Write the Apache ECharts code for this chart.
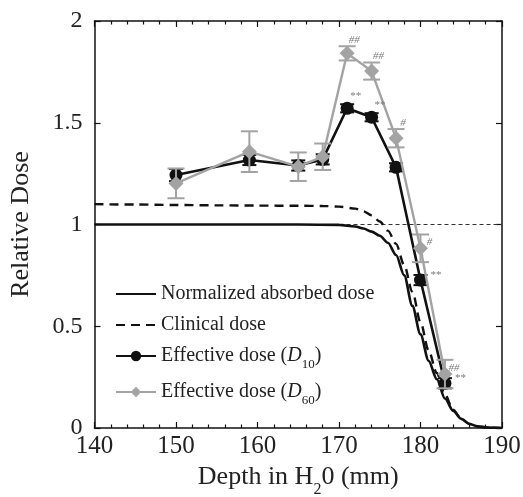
<!DOCTYPE html>
<html>
<head>
<meta charset="utf-8">
<script src="https://cdn.jsdelivr.net/npm/echarts@6/dist/echarts.min.js"></script>
<style>
html,body{margin:0;padding:0;background:#fff;}
#c{width:523px;height:497px;}
</style>
</head>
<body>
<div id="c"></div>
<script>
// ---- data ----
const xTicks = [140, 150, 160, 170, 180, 190];
const yTicks = [0, 0.5, 1, 1.5, 2];
const absorbedDepth = [140,145,150,155,160,165,170,172,173,174,175,176,177,178,179,180,181,182,183,184,185,186,187,188,189,190];
const absorbedDose  = [1.0,1.0,1.0,1.0,1.0,1.0,0.998,0.99,0.98,0.965,0.945,0.91,0.85,0.75,0.6,0.46,0.33,0.24,0.145,0.085,0.045,0.02,0.008,0.003,0.001,0];
const clinicalDepth = [140,145,150,155,160,165,168,170,172,173,174,175,176,177,178,179,180,181,182,183,184,185,186,187,188,189,190];
const clinicalDose  = [1.10,1.098,1.096,1.094,1.093,1.092,1.091,1.088,1.078,1.065,1.045,1.015,0.97,0.905,0.80,0.67,0.52,0.38,0.27,0.165,0.09,0.045,0.02,0.008,0.003,0.001,0];
const refLine = [[140, 1], [190, 1]];
const depths = [150, 159, 165, 168, 171, 174, 177, 180, 183];
const d10    = [1.243, 1.317, 1.29, 1.32, 1.571, 1.527, 1.281, 0.727, 0.22];
const d10Err = [0.03, 0.025, 0.025, 0.025, 0.02, 0.02, 0.02, 0.025, 0.025];
const d60    = [1.202, 1.358, 1.284, 1.333, 1.841, 1.754, 1.424, 0.883, 0.265];
const d60Err = [0.073, 0.10, 0.07, 0.065, 0.035, 0.042, 0.045, 0.068, 0.07];
const d10Sig = ['', '', '', '', '**', '**', '', '**', '**'];
const d60Sig = ['', '', '', '', '##', '##', '#', '#', '##'];
const legendNames = ['Normalized absorbed dose', 'Clinical dose', 'Effective dose (D10)', 'Effective dose (D60)'];

// ---- chart ----
const FONT = 'Liberation Serif';
const BLACK = '#111';
const GRAY = '#a3a3a3';
const TXT = '#222';
const chart = echarts.init(document.getElementById('c'), null, {renderer: 'canvas'});

function zip(xs, ys) { return xs.map((x, i) => [x, ys[i]]); }

function errorSeries(vals, errs, color, capHalf, width, z) {
  return {
    type: 'custom',
    silent: true,
    z: z,
    data: depths.map((x, i) => [x, vals[i] - errs[i], vals[i] + errs[i]]),
    renderItem: function (params, api) {
      const lo = api.coord([api.value(0), api.value(1)]);
      const hi = api.coord([api.value(0), api.value(2)]);
      const st = {stroke: color, lineWidth: width};
      return {
        type: 'group',
        children: [
          {type: 'line', shape: {x1: lo[0], y1: lo[1], x2: hi[0], y2: hi[1]}, style: st},
          {type: 'line', shape: {x1: lo[0] - capHalf, y1: lo[1], x2: lo[0] + capHalf, y2: lo[1]}, style: st},
          {type: 'line', shape: {x1: hi[0] - capHalf, y1: hi[1], x2: hi[0] + capHalf, y2: hi[1]}, style: st}
        ]
      };
    }
  };
}

function sigSeries(vals, errs, sig, isD60) {
  return {
    type: 'custom',
    silent: true,
    z: 20,
    data: depths.map((x, i) => [x, vals[i], errs[i], i]),
    renderItem: function (params, api) {
      const i = api.value(3);
      const txt = sig[i];
      if (!txt) return null;
      let p;
      if (isD60) {
        const cap = api.coord([api.value(0), api.value(1) + api.value(2)]);
        p = i < 7 ? [cap[0] + 7, cap[1] - 6] : [cap[0] + 9, cap[1] + 8];
      } else {
        const pt = api.coord([api.value(0), api.value(1)]);
        p = i < 7 ? [pt[0] + 8, pt[1] - 12] : [pt[0] + 15, pt[1] - 5];
      }
      return {
        type: 'text',
        x: p[0], y: p[1],
        style: {text: txt, fill: '#7a7a7a', font: 'italic 11px "' + FONT + '"', align: 'center', verticalAlign: 'middle'}
      };
    }
  };
}

const richLegend = {
  n: {fontFamily: FONT, fontSize: 20, color: TXT, lineHeight: 24},
  i: {fontFamily: FONT, fontSize: 20, color: TXT, fontStyle: 'italic', lineHeight: 24},
  s: {fontFamily: FONT, fontSize: 13, color: TXT, lineHeight: 13, verticalAlign: 'bottom', padding: [0, 0, -3, 0]}
};

const hideSym = {opacity: 0};

const option = {
  backgroundColor: '#fff',
  animation: false,
  grid: {left: 94.5, right: 21, top: 21, bottom: 69, outerBoundsMode: 'none', containLabel: false},
  legend: {
    data: [
      {name: legendNames[0], itemStyle: hideSym},
      {name: legendNames[1], itemStyle: hideSym},
      {name: legendNames[2]},
      {name: legendNames[3]}
    ],
    orient: 'vertical',
    left: 110,
    top: 279,
    itemWidth: 40,
    itemHeight: 13,
    itemGap: 11,
    textStyle: {fontFamily: FONT, fontSize: 20, color: TXT, rich: richLegend},
    formatter: function (name) {
      const m = name.match(/^(.*)\(D(\d+)\)$/);
      if (m) return '{n|' + m[1] + '(}{i|D}{s|' + m[2] + '}{n|)}';
      return '{n|' + name + '}';
    }
  },
  xAxis: [{
    type: 'value', min: 140, max: 190, interval: 10, position: 'bottom',
    name: 'Depth in H{s|2}0 (mm)', nameLocation: 'middle', nameGap: 30,
    nameTextStyle: {fontFamily: FONT, fontSize: 26, color: TXT,
      rich: {s: {fontFamily: FONT, fontSize: 16, color: TXT, verticalAlign: 'bottom', padding: [0, 0, -8, 0]}}},
    axisLine: {onZero: false, lineStyle: {color: BLACK, width: 1.5}},
    axisTick: {inside: true, length: 6, lineStyle: {color: BLACK, width: 1.2}},
    minorTick: {show: true, splitNumber: 5, length: 3.5, lineStyle: {color: BLACK, width: 1.2}},
    axisLabel: {fontFamily: FONT, fontSize: 25, color: TXT, margin: 6},
    splitLine: {show: false}
  }, {
    type: 'value', min: 140, max: 190, interval: 10, position: 'top',
    axisLine: {onZero: false, lineStyle: {color: BLACK, width: 1.5}},
    axisTick: {inside: true, length: 6, lineStyle: {color: BLACK, width: 1.2}},
    minorTick: {show: true, splitNumber: 5, length: 3.5, lineStyle: {color: BLACK, width: 1.2}},
    axisLabel: {show: false},
    splitLine: {show: false}
  }],
  yAxis: [{
    type: 'value', min: 0, max: 2, interval: 0.5, position: 'left',
    name: 'Relative Dose', nameLocation: 'middle', nameGap: 60,
    nameTextStyle: {fontFamily: FONT, fontSize: 26, color: TXT},
    axisLine: {onZero: false, lineStyle: {color: BLACK, width: 1.5}},
    axisTick: {inside: true, length: 6, lineStyle: {color: BLACK, width: 1.2}},
    axisLabel: {fontFamily: FONT, fontSize: 24, color: TXT, margin: 12,
      formatter: v => String(v)},
    splitLine: {show: false}
  }, {
    type: 'value', min: 0, max: 2, interval: 0.5, position: 'right',
    axisLine: {onZero: false, lineStyle: {color: BLACK, width: 1.5}},
    axisTick: {inside: true, length: 6, lineStyle: {color: BLACK, width: 1.2}},
    axisLabel: {show: false},
    splitLine: {show: false}
  }],
  series: [
    {
      name: 'Reference', type: 'line', data: refLine, symbol: 'none', silent: true, z: 1,
      lineStyle: {color: '#333', width: 1, type: [4, 3]}
    },
    {
      name: legendNames[0], type: 'line', data: zip(absorbedDepth, absorbedDose),
      symbol: 'none', smooth: 0.3, smoothMonotone: 'x', z: 3,
      lineStyle: {color: BLACK, width: 2.6}, itemStyle: {color: BLACK}
    },
    {
      name: legendNames[1], type: 'line', data: zip(clinicalDepth, clinicalDose),
      symbol: 'none', smooth: 0.3, smoothMonotone: 'x', z: 3,
      lineStyle: {color: BLACK, width: 2.4, type: [9, 6]}, itemStyle: {color: BLACK}
    },
    errorSeries(d10, d10Err, BLACK, 7, 2, 4),
    {
      name: legendNames[2], type: 'line', data: zip(depths, d10),
      symbol: 'circle', symbolSize: 13, z: 5,
      lineStyle: {color: BLACK, width: 2.6}, itemStyle: {color: BLACK}
    },
    errorSeries(d60, d60Err, GRAY, 8.5, 2, 6),
    {
      name: legendNames[3], type: 'line', data: zip(depths, d60),
      symbol: 'diamond', symbolSize: 15, z: 7,
      lineStyle: {color: GRAY, width: 2.4}, itemStyle: {color: GRAY}
    },
    sigSeries(d10, d10Err, d10Sig, false),
    sigSeries(d60, d60Err, d60Sig, true)
  ]
};
chart.setOption(option);
</script>
</body>
</html>
